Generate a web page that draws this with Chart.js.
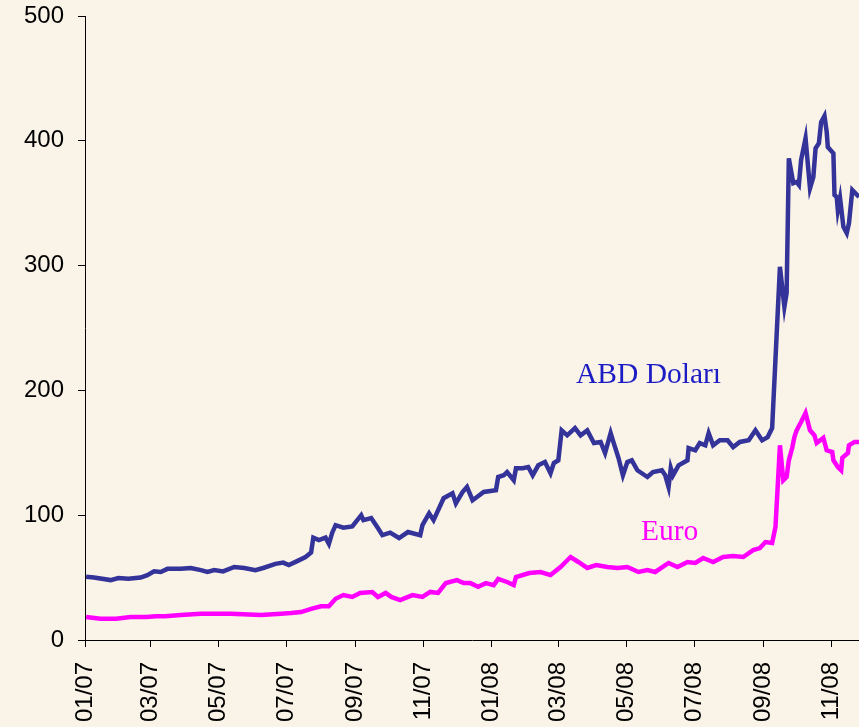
<!DOCTYPE html>
<html lang="tr">
<head>
<meta charset="UTF-8">
<title>ABD Doları / Euro</title>
<script src="https://cdn.jsdelivr.net/npm/chart.js@4.4.1/dist/chart.umd.min.js"></script>
<style>
    body { margin: 0; background: #faf3e8; }
    #kutu { width: 859px; height: 727px; }
</style>
</head>
<body>
<div id="kutu"><canvas id="grafik"></canvas></div>
<script>
    // days since 01.01.2007
    var usdDays = [1, 8, 23, 30, 39, 50, 56, 62, 68, 74, 86, 95, 104, 110, 116, 124, 134, 143, 153, 160,
        171, 178, 183, 190, 198, 203, 205, 210, 216, 219, 222, 225, 232, 240, 248, 250, 257, 263, 267, 274,
        282, 290, 301, 303, 309, 313, 322, 330, 333, 339, 343, 348, 352, 358, 369, 371, 376, 379, 385, 387,
        393, 398, 402, 407, 413, 418, 421, 425, 428, 433, 440, 445, 451, 457, 463, 467, 472, 474, 479, 483,
        487, 491, 496, 505, 510, 518, 521, 524, 526, 528, 533, 541, 542, 548, 552, 557, 560, 564, 570, 577,
        582, 588, 596, 602, 608, 613, 617, 624, 628, 630, 632, 636, 639, 641, 643, 647, 651, 654, 656, 659,
        661, 664, 666, 667, 672, 673, 675, 676, 678, 681, 684, 686, 689, 695];
    var usdValues = [50.7, 50, 48, 49.7, 49, 50, 52, 55, 54.5, 57, 57, 57.7, 56, 54.5, 56, 55, 58.5, 57.7, 56, 57.7,
        61, 62, 60, 63, 66.5, 70, 82, 80, 82, 77, 86, 92, 90, 91, 100, 96, 97.7, 89.7, 84, 86,
        81.7, 86.5, 84, 92, 101.5, 96, 113.6, 117.5, 109.5, 118.6, 122.6, 112, 114.6, 118.6, 120, 130.6, 132, 134.6, 128, 137.6,
        137.6, 138.6, 132, 140, 142.6, 133.6, 141.8, 144, 168, 164, 169.8, 164, 168, 157.8, 158.7, 149.8, 165.8, 160, 146, 132,
        142.6, 144, 136, 130.6, 134.6, 136, 132, 122.6, 137.8, 132, 140, 144, 153.8, 152, 157.8, 156, 165.8, 156, 160, 160,
        154.6, 158.7, 160, 168, 160, 162.6, 169.8, 299, 267, 278, 386, 366, 367, 364.6, 384.6, 402, 362, 371, 394, 398,
        415, 420, 407, 395, 390, 356.6, 355, 344.5, 354, 331, 326, 334, 360.6, 355];

    var eurDays = [1, 14, 28, 41, 55, 64, 72, 86, 104, 131, 158, 176, 185, 194, 203, 212, 219, 225, 232, 240,
        247, 258, 263, 270, 275, 283, 294, 303, 310, 317, 324, 334, 340, 346, 353, 360, 367, 371, 379, 385,
        387, 399, 409, 418, 427, 436, 443, 451, 459, 469, 478, 487, 497, 505, 512, 524, 532, 541, 548, 555,
        564, 573, 582, 591, 600, 606, 611, 617, 620, 624, 627, 630, 632, 635, 637, 639, 643, 647, 651, 655,
        657, 663, 666, 671, 672, 676, 679, 680, 685, 686, 691, 695];
    var eurValues = [18.4, 17, 17, 18.4, 18.4, 19, 19, 20, 21, 21, 20, 21, 21.6, 22.4, 25, 27, 27, 33, 36, 34.5,
        37.7, 38.5, 34.5, 37.7, 34.5, 32, 36, 34.5, 38.5, 37.7, 45.6, 48, 45.6, 45.6, 42.7, 45.6, 44, 48.9, 46.5, 44,
        50.5, 53.7, 54.5, 52, 58.5, 66.5, 62.5, 57.7, 60, 58.5, 57.7, 58.5, 54.5, 56, 54.5, 61.7, 58.5, 62.5, 61.7, 65.7,
        62.5, 66.5, 67.3, 66.5, 72, 73.7, 78.5, 77.7, 90.5, 156, 128, 130.6, 144, 153.8, 162.6, 168, 174.7, 181.9, 168, 164,
        157.8, 161.9, 152, 150.6, 144, 138.6, 136, 146, 149.8, 156, 158.7, 158.7];

    var tickDays = [0, 59, 120, 181, 243, 304, 365, 425, 486, 547, 609, 670];
    var tickLabels = ['01/07', '03/07', '05/07', '07/07', '09/07', '11/07', '01/08', '03/08', '05/08', '07/08', '09/08', '11/08'];

    var seriesNames = ['ABD Doları', 'Euro'];

    function noktalar(gunler, degerler) {
        return gunler.map(function (g, i) { return { x: g, y: degerler[i] }; });
    }

    // cream background + the two series names written inside the plot
    const arkaPlan = {
        id: 'arkaPlan',
        beforeDraw(chart) {
            const ctx = chart.ctx;
            ctx.save();
            ctx.fillStyle = '#faf3e8';
            ctx.fillRect(0, 0, chart.width, chart.height);
            ctx.restore();
        },
        afterDatasetsDraw(chart) {
            const ctx = chart.ctx;
            const x = chart.scales.x, y = chart.scales.y;
            ctx.save();
            ctx.font = '29.5px "Liberation Serif", "Times New Roman", serif';
            ctx.textAlign = 'center';
            ctx.textBaseline = 'middle';
            ctx.fillStyle = '#1c1cc4';
            ctx.fillText(seriesNames[0], x.getPixelForValue(506), y.getPixelForValue(212));
            ctx.fillStyle = '#ff00ff';
            ctx.fillText(seriesNames[1], x.getPixelForValue(525), y.getPixelForValue(86));
            ctx.restore();
        }
    };

    const config = {
        type: 'line',
        data: {
            datasets: [{
                label: seriesNames[0],
                data: noktalar(usdDays, usdValues),
                borderColor: '#333399',
                borderWidth: 4.5,
                pointRadius: 0,
                tension: 0
            }, {
                label: seriesNames[1],
                data: noktalar(eurDays, eurValues),
                borderColor: '#ff00ff',
                borderWidth: 4.5,
                pointRadius: 0,
                tension: 0
            }]
        },
        options: {
            responsive: true,
            maintainAspectRatio: false,
            animation: false,
            layout: { padding: { top: 16, right: 0, left: 0, bottom: 0 } },
            plugins: { legend: { display: false }, tooltip: { enabled: false } },
            scales: {
                x: {
                    type: 'linear',
                    min: 0,
                    max: 695,
                    afterBuildTicks: function (scale) {
                        scale.ticks = tickDays.map(function (d) { return { value: d }; });
                    },
                    afterFit: function (scale) {
                        scale.height = 87;
                        scale.paddingLeft = 0;
                        scale.paddingRight = 0;
                    },
                    ticks: {
                        minRotation: 90,
                        maxRotation: 90,
                        padding: 15,
                        color: '#000',
                        font: { family: '"Liberation Sans", Arial, sans-serif', size: 24 },
                        callback: function (v) {
                            var i = tickDays.indexOf(v);
                            return i >= 0 ? tickLabels[i] : '';
                        }
                    },
                    grid: { drawOnChartArea: false, drawTicks: true, tickLength: 7, color: '#000' },
                    border: { display: true, color: '#000', width: 1 }
                },
                y: {
                    min: 0,
                    max: 500,
                    afterFit: function (scale) {
                        scale.width = 85;
                        scale.paddingTop = 0;
                        scale.paddingBottom = 0;
                    },
                    ticks: {
                        stepSize: 100,
                        padding: 14,
                        color: '#000',
                        font: { family: '"Liberation Sans", Arial, sans-serif', size: 24 }
                    },
                    grid: { drawOnChartArea: false, drawTicks: true, tickLength: 7, color: '#000' },
                    border: { display: true, color: '#000', width: 1 }
                }
            }
        },
        plugins: [arkaPlan]
    };

    new Chart(document.getElementById('grafik'), config);
</script>
</body>
</html>
